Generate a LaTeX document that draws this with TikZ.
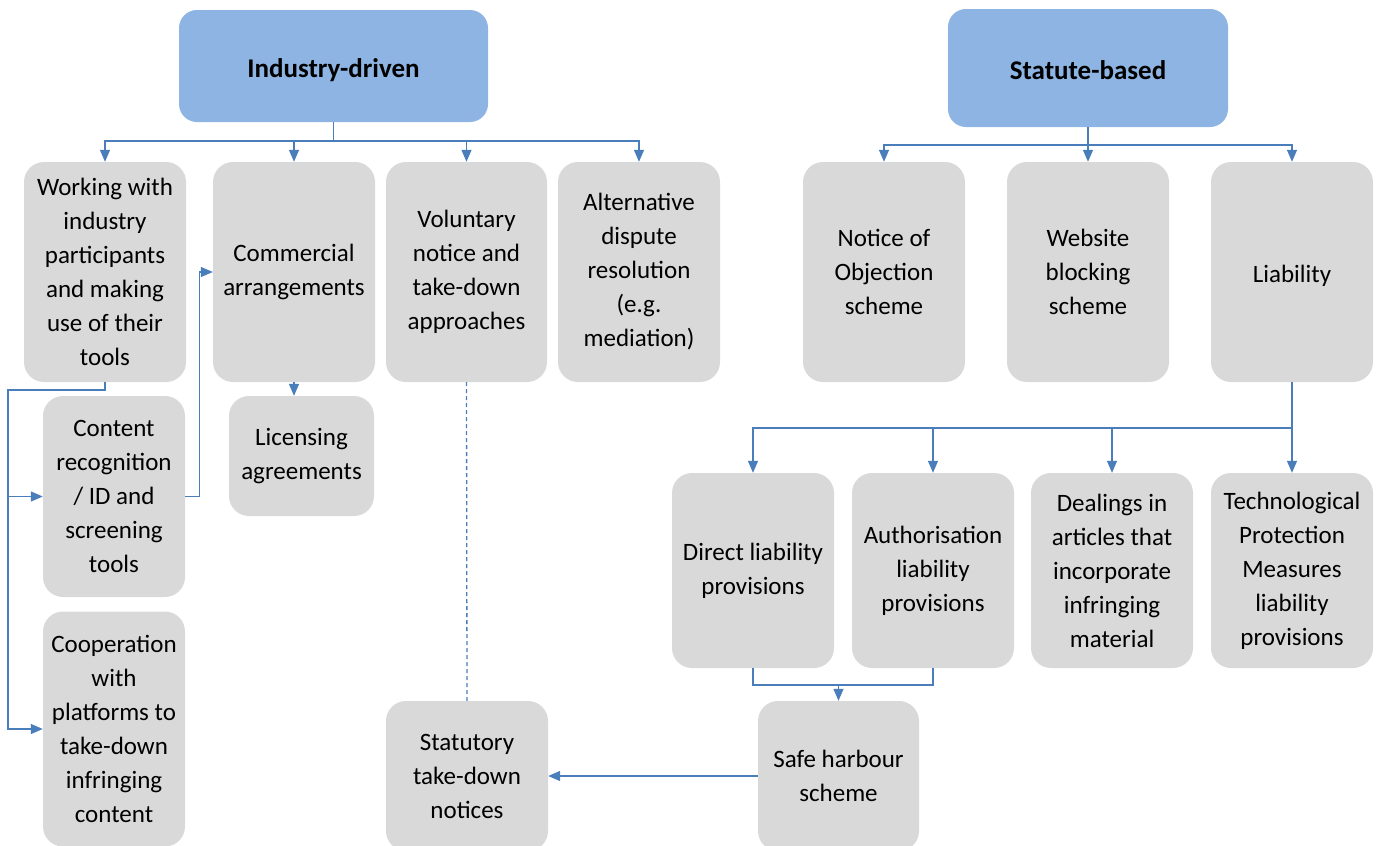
\documentclass[tikz,border=0pt]{standalone}
\usepackage{fontspec}
\setmainfont{Carlito}
\usetikzlibrary{arrows.meta}
\definecolor{boxgray}{HTML}{D9D9D9}
\definecolor{headblue}{HTML}{8DB4E2}
\definecolor{linkblue}{HTML}{4A7EBB}
\begin{document}
\begin{tikzpicture}[x=1pt,y=-1pt,
  box/.style={fill=boxgray, rounded corners=20pt, align=center, inner sep=0pt,
    font=\fontsize{25}{34}\selectfont, execute at begin node={\rule{0pt}{25pt}}},
  head/.style={fill=headblue, rounded corners=18pt, align=center, inner sep=0pt,
    font=\fontsize{27}{30}\selectfont\bfseries},
  line/.style={draw=linkblue, line width=1.3pt},
  conn/.style={line, -{Triangle[length=12pt,width=10pt]}},
  dashline/.style={line, dash pattern=on 4pt off 3pt}
]
\useasboundingbox (0,0) rectangle (1379,846);

% headers
\node[head, minimum width=309pt, minimum height=112pt] (ind) at (333.5,66) {\rule{0pt}{28pt}Industry-driven};
\node[head, minimum width=280pt, minimum height=118pt] (sta) at (1088,68) {\rule{0pt}{24pt}Statute-based};

% row 1
\node[box, minimum width=162pt, minimum height=220pt] (work) at (105,272) {Working with\\industry\\participants\\and making\\use of their\\tools};
\node[box, minimum width=162pt, minimum height=220pt] (comm) at (294,272) {Commercial\\arrangements};
\node[box, minimum width=161pt, minimum height=220pt] (vol) at (466.5,272) {Voluntary\\notice and\\take-down\\approaches};
\node[box, minimum width=162pt, minimum height=220pt] (alt) at (639,272) {Alternative\\dispute\\resolution\\(e.g.\\mediation)};
\node[box, minimum width=162pt, minimum height=220pt] (notice) at (884,272) {Notice of\\Objection\\scheme};
\node[box, minimum width=162pt, minimum height=220pt] (web) at (1088,272) {Website\\blocking\\scheme};
\node[box, minimum width=162pt, minimum height=220pt] (liab) at (1292,272) {Liability};

% left column
\node[box, minimum width=145pt, minimum height=120pt] (lic) at (301.5,456) {Licensing\\agreements};
\node[box, minimum width=142pt, minimum height=201pt] (cont) at (114,496.5) {Content\\recognition\\/ ID and\\screening\\tools};
\node[box, minimum width=142pt, minimum height=235pt] (coop) at (114,729) {Cooperation\\with\\platforms to\\take-down\\infringing\\content};

% row 3
\node[box, minimum width=162pt, minimum height=195pt] (direct) at (753,570.5) {Direct liability\\provisions};
\node[box, minimum width=162pt, minimum height=195pt] (auth) at (933,570.5) {Authorisation\\liability\\provisions};
\node[box, minimum width=162pt, minimum height=195pt] (deal) at (1112,570.5) {Dealings in\\articles that\\incorporate\\infringing\\material};
\node[box, minimum width=162pt, minimum height=195pt] (tech) at (1292,570.5) {Technological\\Protection\\Measures\\liability\\provisions};

% bottom
\node[box, minimum width=161pt, minimum height=150pt] (safe) at (838.5,776) {Safe harbour\\scheme};
\node[box, minimum width=162pt, minimum height=150pt] (statut) at (467,776) {Statutory\\take-down\\notices};

% industry connectors
\coordinate (ib) at (333.5,141);
\draw[line] (ind.south) -- (ib);
\draw[conn] (ib) -| (work.north);
\draw[conn] (ib) -| (comm.north);
\draw[conn] (ib) -| (vol.north);
\draw[conn] (ib) -| (alt.north);

% statute connectors
\coordinate (sb) at (1088,145);
\draw[line] (sta.south) -- (sb);
\draw[conn] (sb) -| (notice.north);
\draw[conn] (sb) -- (web.north);
\draw[conn] (sb) -| (liab.north);

% working -> content, cooperation
\coordinate (jl) at (8,390);
\draw[conn] (work.south) |- (jl) |- (coop.west);
\draw[conn] (jl) |- (cont.west);

% content -> commercial
\draw[conn] (cont.east) -- ++(14,0) |- (comm.west);

% commercial -> licensing
\draw[conn] (comm.south) -- (comm.south |- lic.north);

% voluntary -> statutory (dashed)
\draw[dashline] (vol.south) -- (statut.north);

% liability -> row 3
\coordinate (lb) at (1292,428);
\draw[line] (liab.south) -- (lb);
\draw[conn] (lb) -| (direct.north);
\draw[conn] (lb) -| (auth.north);
\draw[conn] (lb) -| (deal.north);
\draw[conn] (lb) -- (tech.north);

% direct, authorisation -> safe harbour
\coordinate (sj) at (838.5,685);
\draw[line] (direct.south) |- (sj) -| (auth.south);
\draw[conn] (sj) -- (safe.north);

% safe harbour -> statutory
\draw[conn] (safe.west) -- (statut.east);
\end{tikzpicture}
\end{document}
